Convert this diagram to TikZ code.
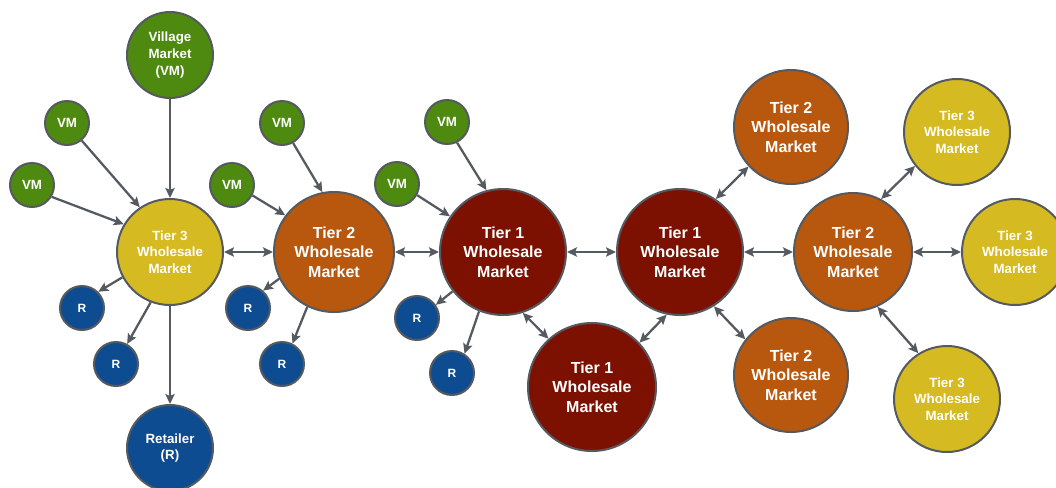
\documentclass[tikz,border=0pt]{standalone}
\usepackage{fontspec}
\setmainfont{Liberation Sans}
\usetikzlibrary{arrows.meta}
\definecolor{vmgreen}{RGB}{78,137,16}
\definecolor{tthree}{RGB}{214,186,34}
\definecolor{ttwo}{RGB}{184,88,14}
\definecolor{tone}{RGB}{124,17,2}
\definecolor{rblue}{RGB}{14,76,145}
\definecolor{edgegray}{RGB}{85,90,96}
\tikzset{
  mkt/.style={circle, draw=edgegray, line width=1.5pt, inner sep=0pt, text=white, align=center},
  bigtxt/.style={font=\fontsize{12}{14.6}\selectfont\bfseries},
  smltxt/.style={font=\fontsize{10}{12.5}\selectfont\bfseries},
  tinytxt/.style={font=\fontsize{9}{11}\selectfont\bfseries},
  vmsmall/.style={mkt, fill=vmgreen, minimum size=33pt, smltxt},
  vmlarge/.style={mkt, fill=vmgreen, minimum size=64.5pt, smltxt},
  rsmall/.style={mkt, fill=rblue, minimum size=33pt, tinytxt},
  rlarge/.style={mkt, fill=rblue, minimum size=64.5pt, smltxt},
  tierthree/.style={mkt, fill=tthree, minimum size=79.5pt, smltxt},
  tiertwo/.style={mkt, fill=ttwo, bigtxt},
  tierone/.style={mkt, fill=tone, minimum size=94.5pt, bigtxt},
  arr/.style={draw=edgegray, line width=1.7pt, -{Stealth[length=7.5pt,width=7pt,inset=1.5pt]}},
  dbl/.style={draw=edgegray, line width=1.7pt, {Stealth[length=7.5pt,width=7pt,inset=1.5pt]}-{Stealth[length=7.5pt,width=7pt,inset=1.5pt]}}
}
\begin{document}
\begin{tikzpicture}[x=0.75pt,y=-0.75pt]
\useasboundingbox (0,0) rectangle (1056,487);
\clip (0,0) rectangle (1056,487);
% green village markets
\node[vmlarge] (vmbig) at (170,55) {Village\\Market\\(VM)};
\node[vmsmall] (vm1) at (67,123) {VM};
\node[vmsmall] (vm2) at (32,185) {VM};
\node[vmsmall] (vm3) at (282,123) {VM};
\node[vmsmall] (vm4) at (232,185) {VM};
\node[vmsmall] (vm5) at (447,122) {VM};
\node[vmsmall] (vm6) at (397,184) {VM};
% wholesale markets
\node[tierthree] (t3a) at (170,252) {Tier 3\\Wholesale\\Market};
\node[tiertwo, minimum size=90pt] (t2a) at (334,252) {Tier 2\\Wholesale\\Market};
\node[tierone] (t1a) at (503,252) {Tier 1\\Wholesale\\Market};
\node[tierone] (t1b) at (680,252) {Tier 1\\Wholesale\\Market};
\node[tierone, minimum size=96pt] (t1c) at (592,387) {Tier 1\\Wholesale\\Market};
\node[tiertwo, minimum size=85.5pt] (t2b) at (791,127) {Tier 2\\Wholesale\\Market};
\node[tiertwo, minimum size=88.5pt] (t2c) at (853,252) {Tier 2\\Wholesale\\Market};
\node[tiertwo, minimum size=85.5pt] (t2d) at (791,375) {Tier 2\\Wholesale\\Market};
\node[tierthree] (t3b) at (957,132) {Tier 3\\Wholesale\\Market};
\node[tierthree] (t3c) at (1015,252) {Tier 3\\Wholesale\\Market};
\node[tierthree] (t3d) at (947,399) {Tier 3\\Wholesale\\Market};
% retailers
\node[rsmall] (r1) at (82,308) {R};
\node[rsmall] (r2) at (116,364) {R};
\node[rsmall] (r3) at (248,308) {R};
\node[rsmall] (r4) at (282,364) {R};
\node[rsmall] (r5) at (417,318) {R};
\node[rsmall] (r6) at (452,373) {R};
\node[rlarge] (ret) at (170,448) {Retailer\\(R)};
% single arrows
\draw[arr] (vmbig.-90) -- (t3a.90);
\draw[arr] (vm1.-50) -- (t3a.124);
\draw[arr] (vm2.-31) -- (t3a.149);
\draw[arr] (vm3.-61) -- (t2a.101);
\draw[arr] (vm4.-27) -- (t2a.143);
\draw[arr] (vm5.-64) -- (t1a.105);
\draw[arr] (vm6.-29) -- (t1a.146);
\draw[arr] (t3a.-152) -- (r1.45);
\draw[arr] (t3a.-111) -- (r2.61);
\draw[arr] (t3a.-90) -- (ret.90);
\draw[arr] (t2a.-154) -- (r3.49);
\draw[arr] (t2a.-116) -- (r4.63);
\draw[arr] (t1a.-142) -- (r5.35);
\draw[arr] (t1a.-112) -- (r6.57);
% double arrows
\draw[dbl] (t3a.east) -- (t2a.west);
\draw[dbl] (t2a.east) -- (t1a.west);
\draw[dbl] (t1a.east) -- (t1b.west);
\draw[dbl] (t1b.east) -- (t2c.west);
\draw[dbl] (t2c.east) -- (t3c.west);
\draw[dbl] (t1a.-72) -- (t1c.132);
\draw[dbl] (t1c.43) -- (t1b.-102);
\draw[dbl] (t1b.56) -- (t2b.-137);
\draw[dbl] (t1b.-58) -- (t2d.142);
\draw[dbl] (t2c.62) -- (t3b.-141);
\draw[dbl] (t2c.-66) -- (t3d.122);
\end{tikzpicture}
\end{document}
